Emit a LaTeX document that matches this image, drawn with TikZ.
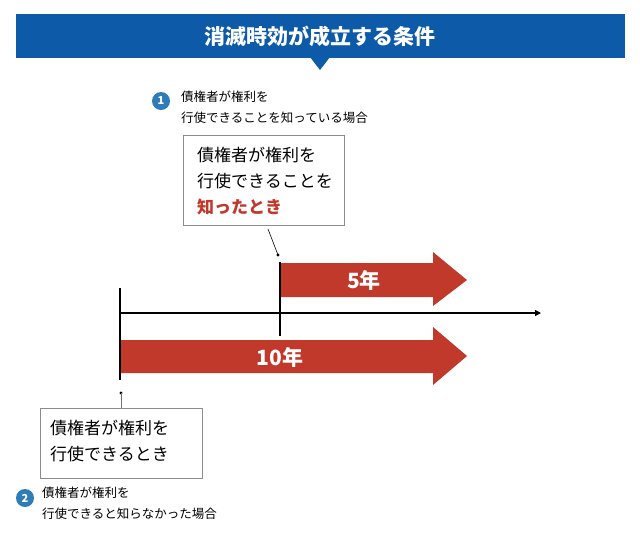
\documentclass[tikz,border=0pt]{standalone}
\usepackage{fontspec}
\setmainfont{Noto Sans CJK JP}
\usetikzlibrary{shapes.arrows,arrows.meta}
\definecolor{hblue}{HTML}{0C5AA8}
\definecolor{bblue}{HTML}{2E7DB8}
\definecolor{ared}{HTML}{C0392B}
\tikzset{
  box/.style={draw=black!45,fill=white,line width=0.8pt,align=left,inner sep=0pt},
  badge/.style={circle,fill=bblue,text=white,font=\bfseries\fontsize{11}{11}\selectfont,inner sep=0pt,minimum size=18pt},
  small/.style={font=\fontsize{12.5}{21}\selectfont,align=left,anchor=north west,inner sep=0pt},
  big/.style={font=\fontsize{17}{26}\selectfont,align=left,anchor=north west,inner sep=0pt},
  redarrow/.style={fill=ared},
}
\begin{document}
\begin{tikzpicture}[x=1pt,y=-1pt]
\useasboundingbox (0,0) rectangle (640,550);
\fill[white] (0,0) rectangle (640,550);
% header
\fill[hblue] (16,14) rectangle (625,58);
\fill[hblue] (310,57) -- (330,57) -- (320,70) -- cycle;
\node[text=white,font=\bfseries\fontsize{21}{21}\selectfont] (title) at (320,36) {消滅時効が成立する条件};
% item 1
\node[badge] (b1) at (161,101) {1};
\node[small] (t1) at (181,91) {債権者が権利を\\行使できることを知っている場合};
\draw[box] (183,135) rectangle (344,225);
\node[big] (c1) at (197,147) {債権者が権利を\\行使できることを\\{\bfseries\color{ared}知ったとき}};
\coordinate (d1) at (278,255);
\draw[line width=0.6pt] (268,229) -- (d1);
\fill (d1) circle (1.6);
% arrows
\fill[ared] (280,263) -- (433,263) -- (433,252) -- (467,280) -- (433,306) -- (433,297) -- (280,297) -- cycle;
\node[text=white,font=\bfseries\fontsize{21}{21}\selectfont] (five) at (364,280) {5年};
\fill[ared] (119,340) -- (433,340) -- (433,327) -- (467,356) -- (433,385) -- (433,373) -- (119,373) -- cycle;
\node[text=white,font=\bfseries\fontsize{21}{21}\selectfont] (ten) at (280,357) {10年};
% axis
\coordinate (a0) at (119,313);
\coordinate (a1) at (541,313);
\draw[line width=1.2pt,-{Triangle[length=6pt,width=6pt]}] (a0) -- (a1);
\draw[line width=1.4pt] (280,262) -- (280,336);
\draw[line width=1.4pt] (120,288) -- (120,380);
% item 2
\coordinate (d2) at (121,393);
\fill (d2) circle (1.6);
\draw[black!55,line width=0.8pt] (d2) -- (121,408);
\draw[box] (40,408) rectangle (202,478);
\node[big] (c2) at (50,420) {債権者が権利を\\行使できるとき};
\node[badge] (b2) at (25,498) {2};
\node[small] (t2) at (42,487) {債権者が権利を\\行使できると知らなかった場合};
\end{tikzpicture}
\end{document}
